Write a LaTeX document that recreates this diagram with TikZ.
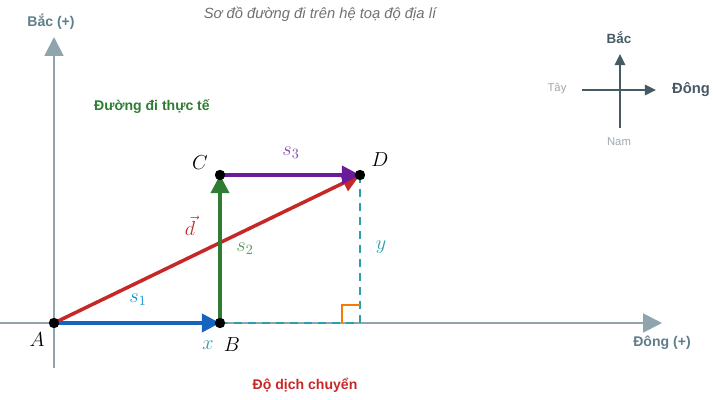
\documentclass[tikz,border=0pt]{standalone}
\usepackage{fontspec}
\newfontfamily\lsans{Liberation Sans}
\usetikzlibrary{arrows.meta}
\definecolor{axisc}{HTML}{90A4AE}
\definecolor{axislab}{HTML}{607D8B}
\definecolor{cblue}{HTML}{1565C0}
\definecolor{cgreen}{HTML}{2E7D32}
\definecolor{cpurple}{HTML}{6A1B9A}
\definecolor{cred}{HTML}{C62828}
\definecolor{cteal}{HTML}{2AA0AC}
\definecolor{corange}{HTML}{F57C00}
\definecolor{cdark}{HTML}{455A64}
\definecolor{clight}{HTML}{9EA7AD}
\definecolor{ctitle}{HTML}{707070}
\tikzset{
  axisline/.style={draw=axisc, line width=1.4pt, -{Triangle[length=0.47cm,width=0.47cm]}},
  vec/.style={line width=2.5pt, -{Triangle[length=0.45cm,width=0.45cm]}},
  pt/.style={circle, fill=black, inner sep=0pt, minimum size=0.26cm},
  mlab/.style={font=\fontsize{14}{15}\selectfont},
  dashline/.style={draw=cteal, line width=1.4pt, dash pattern=on 0.2cm off 0.15cm},
  compass/.style={draw=cdark, line width=1.5pt},
}
\begin{document}
\begin{tikzpicture}[x=0.025cm,y=-0.025cm]
\useasboundingbox (0,0) rectangle (713,400);
% axes
\coordinate (xs) at (0,323);
\coordinate (xe) at (662,323);
\coordinate (ys) at (54,368);
\coordinate (ye) at (54,37);
\draw[axisline] (xs) -- (xe);
\draw[axisline] (ys) -- (ye);
\node[text=axislab, font=\lsans\bfseries\fontsize{10}{11}\selectfont] (ylab) at (51,22) {Bắc (+)};
\node[text=axislab, font=\lsans\bfseries\fontsize{10}{11}\selectfont] (xlab) at (662,343) {Đông (+)};
% title
\node[text=ctitle, font=\lsans\itshape\fontsize{10.5}{12}\selectfont] (title) at (320,14) {Sơ đồ đường đi trên hệ toạ độ địa lí};
% points
\coordinate (A) at (54,323);
\coordinate (B) at (220,323);
\coordinate (C) at (220,175);
\coordinate (D) at (360,175);
\coordinate (E) at (360,323);
% dashed projections
\draw[dashline] (B) -- (E);
\draw[dashline] (D) -- (E);
% right angle
\coordinate (R1) at (342,323);
\coordinate (R2) at (342,305);
\coordinate (R3) at (360,305);
\draw[corange, line width=0.9pt] (R1) -- (R2) -- (R3);
% vectors
\draw[vec, cred] (A) -- (D);
\draw[vec, cblue] (A) -- (B);
\draw[vec, cgreen] (B) -- (C);
\draw[vec, cpurple] (C) -- (D);
% dots
\node[pt] (pA) at (A) {};
\node[pt] (pB) at (B) {};
\node[pt] (pC) at (C) {};
\node[pt] (pD) at (D) {};
% point labels
\node[mlab] (lA) at (37,340) {$A$};
\node[mlab] (lB) at (232,345) {$B$};
\node[mlab] (lC) at (200,163) {$C$};
\node[mlab] (lD) at (380,160) {$D$};
% vector labels
\node[mlab, text=cblue!70!cyan] (ls1) at (138,300) {$s_1$};
\node[mlab, text=cgreen!80!white] (ls2) at (245,249) {$s_2$};
\node[mlab, text=cpurple!80!white] (ls3) at (291,153) {$s_3$};
\node[mlab, text=cred] (ld) at (190,226) {$\vec{d}$};
\node[mlab, text=cteal] (lx) at (208,345) {$x$};
\node[mlab, text=cteal] (ly) at (381,247) {$y$};
% captions
\node[text=cgreen, font=\lsans\bfseries\fontsize{10}{11}\selectfont] (real) at (152,107) {Đường đi thực tế};
\node[text=cred, font=\lsans\bfseries\fontsize{10}{11}\selectfont] (disp) at (305,385) {Độ dịch chuyển};
% compass
\coordinate (cS) at (620,128);
\coordinate (cN) at (620,54);
\coordinate (cW) at (582,90);
\coordinate (cE) at (656,90);
\draw[compass, -{Triangle[length=0.28cm,width=0.26cm]}] (cS) -- (cN);
\draw[compass, -{Triangle[length=0.28cm,width=0.26cm]}] (cW) -- (cE);
\node[text=cdark, font=\lsans\bfseries\fontsize{9.5}{11}\selectfont] (nN) at (619,38) {Bắc};
\node[text=cdark, font=\lsans\bfseries\fontsize{10.5}{12}\selectfont] (nE) at (691,90) {Đông};
\node[text=clight, font=\lsans\fontsize{8}{9}\selectfont] (nW) at (557,89) {Tây};
\node[text=clight, font=\lsans\fontsize{8}{9}\selectfont] (nS) at (619,142) {Nam};
\end{tikzpicture}
\end{document}
